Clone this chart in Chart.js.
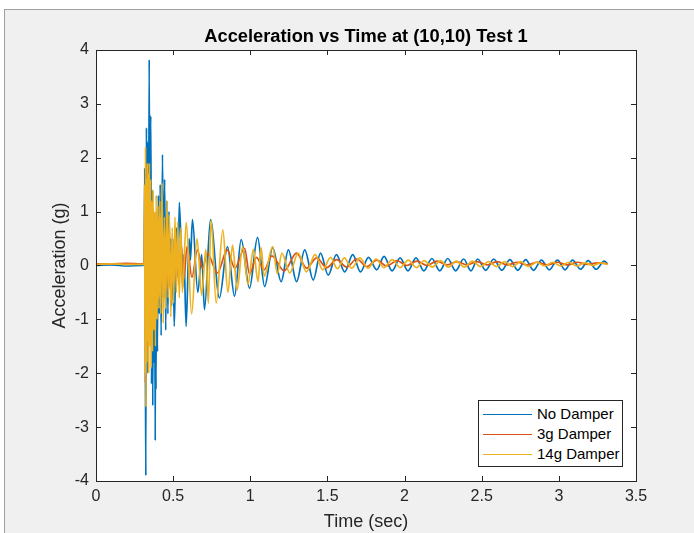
<!DOCTYPE html>
<html>
<head>
<meta charset="utf-8">
<script src="https://cdn.jsdelivr.net/npm/chart.js@4.4.1/dist/chart.umd.min.js"></script>
<style>
    html, body { margin: 0; padding: 0; background: #ffffff; }
    #frame {
        position: absolute; left: 4px; top: 9px; width: 690px; height: 524px;
        background: #f0f0f0; border-left: 1px solid #a0a0a0; border-top: 1px solid #a0a0a0;
        box-sizing: border-box;
    }
    #wrap { position: absolute; left: 0; top: 0; width: 694px; height: 533px; }
    #legend {
        position: absolute; left: 478px; top: 400px; width: 145px; height: 67px;
        box-sizing: border-box; border: 1px solid #262626; background: #ffffff;
        font-family: "Liberation Sans", Arial, sans-serif; font-size: 15px; color: #000;
        padding-top: 3px;
    }
    .legend-row { position: relative; height: 20px; line-height: 20px; }
    .legend-line { position: absolute; left: 4px; top: 10px; width: 49px; height: 1px; }
    .legend-text { position: absolute; left: 58px; top: 0; white-space: nowrap; }
</style>
</head>
<body>
<div id="frame"></div>
<div id="wrap">
    <canvas id="accelChart" width="694" height="533"></canvas>
    <div id="legend"></div>
</div>
<script>
// Series labels and colours
const seriesLabels = ['No Damper', '3g Damper', '14g Damper'];
const seriesColors = ['#0072BD', '#D95319', '#EDB120'];

// Axis ticks
const xTicks = [0, 0.5, 1, 1.5, 2, 2.5, 3, 3.5];
const yTicks = [-4, -3, -2, -1, 0, 1, 2, 3, 4];

// No Damper - time (sec) and acceleration (g)
const noDamperTime = [0.000, 0.100, 0.200, 0.300, 0.312, 0.316, 0.320, 0.323, 0.327, 0.331,
    0.335, 0.339, 0.345, 0.349, 0.352, 0.356, 0.360, 0.364, 0.368, 0.372,
    0.376, 0.380, 0.384, 0.386, 0.389, 0.393, 0.398, 0.404, 0.410, 0.416,
    0.422, 0.431, 0.438, 0.445, 0.452, 0.459, 0.466, 0.473, 0.481, 0.486,
    0.490, 0.498, 0.507, 0.523, 0.531, 0.540, 0.562, 0.570, 0.584, 0.604,
    0.612, 0.625, 0.660, 0.685, 0.703, 0.742, 0.800, 0.852, 0.898, 0.941,
    0.995, 1.047, 1.093, 1.145, 1.200, 1.247, 1.300, 1.353, 1.408, 1.455,
    1.505, 1.558, 1.612, 1.664, 1.714, 1.766, 1.820, 1.867, 1.919, 1.971,
    2.022, 2.074, 2.125, 2.177, 2.228, 2.280, 2.331, 2.383, 2.430, 2.474,
    2.526, 2.578, 2.630, 2.683, 2.734, 2.785, 2.836, 2.887, 2.938, 2.991,
    3.040, 3.089, 3.140, 3.190, 3.242, 3.294, 3.316];
const noDamperAccel = [0.00, 0.01, -0.01, 0.00, 0.05, 1.80, -1.50, -3.90, 2.56, -2.00,
    2.30, -1.20, 3.82, -0.60, 2.20, 2.77, -2.20, 1.40, -2.60, 0.90,
    -1.80, 0.60, -3.25, -0.50, -2.30, 0.80, -1.60, 1.30, -0.90, 1.50,
    -1.30, 2.06, -0.60, 1.60, -1.20, 1.20, -0.90, 1.00, -0.40, 0.50,
    -0.75, 0.50, -1.13, 0.70, -0.20, 1.17, -0.40, 0.20, -1.13, 0.50,
    0.10, 0.85, -0.50, 0.20, -0.82, 0.85, -0.60, 0.35, -0.57, 0.48,
    -0.42, 0.52, -0.39, 0.33, -0.30, 0.29, -0.30, 0.29, -0.27, 0.23,
    -0.18, 0.20, -0.12, 0.20, -0.12, 0.15, -0.08, 0.17, -0.10, 0.14,
    -0.10, 0.14, -0.10, 0.13, -0.10, 0.13, -0.10, 0.12, -0.10, 0.12,
    -0.09, 0.12, -0.09, 0.11, -0.09, 0.11, -0.09, 0.10, -0.08, 0.10,
    -0.08, 0.10, -0.07, 0.09, -0.07, 0.08, 0.03];

// 3g Damper
const damper3Time = [0.000, 0.100, 0.200, 0.300, 0.313, 0.317, 0.321, 0.325, 0.329, 0.333,
    0.337, 0.341, 0.346, 0.351, 0.356, 0.362, 0.368, 0.375, 0.382, 0.390,
    0.398, 0.407, 0.416, 0.426, 0.436, 0.447, 0.458, 0.470, 0.482, 0.495,
    0.508, 0.522, 0.537, 0.552, 0.570, 0.590, 0.622, 0.657, 0.690, 0.722,
    0.787, 0.850, 0.900, 0.963, 0.995, 1.040, 1.090, 1.140, 1.220, 1.300,
    1.365, 1.430, 1.495, 1.560, 1.625, 1.690, 1.755, 1.820, 1.885, 1.950,
    2.015, 2.080, 2.145, 2.210, 2.275, 2.340, 2.405, 2.470, 2.535, 2.600,
    2.665, 2.730, 2.795, 2.860, 2.925, 2.990, 3.055, 3.120, 3.185, 3.250,
    3.316];
const damper3Accel = [0.03, 0.03, 0.04, 0.03, 0.05, 1.20, -2.18, 1.83, -1.60, 1.40,
    -1.20, 1.10, -1.40, 1.00, -0.90, 1.20, -0.80, 0.90, -0.70, 0.80,
    -0.60, 0.90, -0.50, 0.70, -0.60, 0.60, -0.40, 0.55, -0.45, 0.50,
    -0.30, 0.45, -0.35, 0.40, -0.25, 0.35, -0.22, 0.29, -0.05, 0.22,
    -0.14, 0.29, -0.05, 0.32, -0.16, 0.15, -0.08, 0.18, -0.10, 0.23,
    -0.05, 0.14, -0.04, 0.11, -0.03, 0.12, -0.02, 0.10, -0.01, 0.09,
    0.00, 0.08, 0.00, 0.08, 0.01, 0.07, 0.01, 0.07, 0.01, 0.07,
    0.01, 0.06, 0.01, 0.06, 0.01, 0.06, 0.01, 0.06, 0.02, 0.05,
    0.03];

// 14g Damper
const damper14Time = [0.000, 0.100, 0.200, 0.300, 0.312, 0.315, 0.318, 0.321, 0.324, 0.327,
    0.330, 0.333, 0.336, 0.339, 0.342, 0.346, 0.350, 0.354, 0.358, 0.362,
    0.366, 0.370, 0.375, 0.380, 0.385, 0.390, 0.396, 0.402, 0.408, 0.414,
    0.420, 0.428, 0.436, 0.444, 0.452, 0.460, 0.468, 0.476, 0.485, 0.494,
    0.503, 0.512, 0.521, 0.530, 0.540, 0.550, 0.560, 0.585, 0.620, 0.655,
    0.685, 0.712, 0.728, 0.746, 0.779, 0.822, 0.855, 0.885, 0.915, 0.950,
    0.985, 1.020, 1.050, 1.070, 1.090, 1.145, 1.175, 1.205, 1.256, 1.310,
    1.364, 1.420, 1.470, 1.520, 1.565, 1.610, 1.657, 1.710, 1.763, 1.815,
    1.867, 1.920, 1.972, 2.024, 2.076, 2.128, 2.180, 2.232, 2.284, 2.336,
    2.388, 2.440, 2.492, 2.544, 2.596, 2.648, 2.700, 2.752, 2.804, 2.856,
    2.908, 2.960, 3.012, 3.064, 3.116, 3.168, 3.220, 3.272, 3.316];
const damper14Accel = [0.02, 0.03, 0.02, 0.02, 0.03, 1.50, -2.00, 2.20, -2.63, 1.60,
    -1.80, 1.90, -1.40, 1.70, -2.00, 1.90, -1.50, 1.60, -1.90, 1.20,
    -1.60, 1.40, -1.20, 1.00, -1.50, 1.30, -1.00, 1.10, -0.80, 1.20,
    -0.90, 1.53, -1.07, 0.90, -0.80, 1.20, -0.60, 0.94, -0.95, 0.70,
    -0.70, 0.90, -0.50, 0.80, -0.60, 0.70, -0.50, 0.80, -0.90, 0.50,
    -0.55, 0.30, -0.70, 0.84, -0.70, 0.66, -0.50, 0.38, -0.45, 0.35,
    -0.35, 0.30, -0.30, 0.33, -0.20, 0.35, -0.15, 0.23, -0.14, 0.23,
    -0.12, 0.20, -0.08, 0.15, -0.06, 0.14, -0.05, 0.14, -0.05, 0.12,
    -0.04, 0.11, -0.04, 0.10, -0.04, 0.09, -0.03, 0.09, -0.03, 0.08,
    -0.03, 0.08, -0.02, 0.07, -0.02, 0.07, -0.02, 0.07, -0.02, 0.06,
    -0.01, 0.06, -0.01, 0.06, -0.01, 0.05, 0.00, 0.05, 0.02];

const axisColor = '#262626';
const fontFamily = '"Liberation Sans", Arial, Helvetica, sans-serif';

function toPoints(times, values) {
    return times.map((t, i) => ({ x: t, y: values[i] }));
}

// White plot background
const plotBackground = {
    id: 'plotBackground',
    beforeDraw(chart) {
        const { ctx, chartArea: a } = chart;
        ctx.save();
        ctx.fillStyle = '#ffffff';
        ctx.fillRect(a.left, a.top, a.right - a.left, a.bottom - a.top);
        ctx.restore();
    }
};

// MATLAB style box with inward ticks on all four sides
const matlabBox = {
    id: 'matlabBox',
    afterDraw(chart) {
        const { ctx, chartArea: a, scales } = chart;
        const len = 5;
        ctx.save();
        ctx.strokeStyle = axisColor;
        ctx.lineWidth = 1;
        ctx.beginPath();
        scales.x.ticks.forEach(t => {
            const px = Math.round(scales.x.getPixelForValue(t.value)) + 0.5;
            ctx.moveTo(px, a.bottom); ctx.lineTo(px, a.bottom - len);
            ctx.moveTo(px, a.top); ctx.lineTo(px, a.top + len);
        });
        scales.y.ticks.forEach(t => {
            const py = Math.round(scales.y.getPixelForValue(t.value)) + 0.5;
            ctx.moveTo(a.left, py); ctx.lineTo(a.left + len, py);
            ctx.moveTo(a.right, py); ctx.lineTo(a.right - len, py);
        });
        ctx.stroke();
        ctx.strokeRect(Math.round(a.left) + 0.5, Math.round(a.top) + 0.5,
            Math.round(a.right - a.left), Math.round(a.bottom - a.top));
        ctx.restore();
    }
};

const allTimes = [noDamperTime, damper3Time, damper14Time];
const allAccel = [noDamperAccel, damper3Accel, damper14Accel];

const datasets = seriesLabels.map((label, i) => ({
    label: label,
    data: toPoints(allTimes[i], allAccel[i]),
    borderColor: seriesColors[i],
    borderWidth: 1.7,
    pointRadius: 0,
    fill: false,
    cubicInterpolationMode: 'monotone',
    order: 3 - i
}));

const ctx = document.getElementById('accelChart').getContext('2d');
const accelChart = new Chart(ctx, {
    type: 'line',
    data: { datasets: datasets },
    options: {
        responsive: false,
        animation: false,
        layout: { padding: { left: 0, right: 58, top: 0, bottom: 0 } },
        plugins: {
            legend: { display: false },
            tooltip: { enabled: false },
            title: {
                display: true,
                fullSize: false,
                text: 'Acceleration vs Time at (10,10) Test 1',
                color: '#000000',
                font: { family: fontFamily, size: 18.3, weight: 'bold' },
                padding: { top: 26, bottom: 2 }
            }
        },
        scales: {
            x: {
                type: 'linear',
                min: 0,
                max: 3.5,
                afterBuildTicks: scale => { scale.ticks = xTicks.map(v => ({ value: v })); },
                afterFit: scale => { scale.height = 52; },
                grid: { display: false, drawTicks: false },
                border: { display: false },
                ticks: {
                    color: axisColor, padding: 6, maxRotation: 0,
                    font: { family: fontFamily, size: 16 },
                    callback: value => String(value)
                },
                title: {
                    display: true,
                    text: 'Time (sec)',
                    color: axisColor,
                    font: { family: fontFamily, size: 18 },
                    padding: { top: 0, bottom: 0 }
                }
            },
            y: {
                min: -4,
                max: 4,
                afterBuildTicks: scale => { scale.ticks = yTicks.map(v => ({ value: v })); },
                afterFit: scale => { scale.width = 96; },
                grid: { display: false, drawTicks: false },
                border: { display: false },
                ticks: {
                    color: axisColor, padding: 7,
                    font: { family: fontFamily, size: 16 },
                    callback: value => String(value)
                },
                title: {
                    display: true,
                    text: 'Acceleration (g)',
                    color: axisColor,
                    font: { family: fontFamily, size: 18 },
                    padding: { top: 49, bottom: 0 }
                }
            }
        }
    },
    plugins: [plotBackground, matlabBox]
});

// HTML legend built from the chart datasets
const legendBox = document.getElementById('legend');
accelChart.data.datasets.forEach(ds => {
    const row = document.createElement('div');
    row.className = 'legend-row';
    const line = document.createElement('span');
    line.className = 'legend-line';
    line.style.backgroundColor = ds.borderColor;
    const text = document.createElement('span');
    text.className = 'legend-text';
    text.textContent = ds.label;
    row.appendChild(line);
    row.appendChild(text);
    legendBox.appendChild(row);
});
</script>
</body>
</html>
